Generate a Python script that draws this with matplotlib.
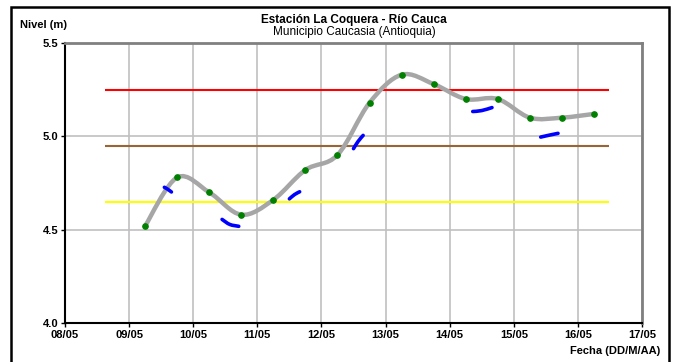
import matplotlib.pyplot as plt
from matplotlib.path import Path
from matplotlib.patches import PathPatch, Rectangle
import numpy as np

plt.rcParams['font.family'] = ['Liberation Sans', 'DejaVu Sans']

# Nivel del río (m), dos lecturas por día (día del mes de mayo)
dias = [9.25, 9.75, 10.25, 10.75, 11.25, 11.75, 12.25, 12.75,
        13.25, 13.75, 14.25, 14.75, 15.25, 15.75, 16.25]
nivel = [4.52, 4.78, 4.70, 4.58, 4.66, 4.82, 4.90, 5.18,
         5.33, 5.28, 5.20, 5.20, 5.10, 5.10, 5.12]

# tramos del pronóstico (azul): inicio, medio, fin
tramos_x = [[9.55, 9.60, 9.66], [10.45, 10.57, 10.71], [11.50, 11.58, 11.66],
            [12.50, 12.57, 12.65], [14.36, 14.50, 14.66], [15.42, 15.55, 15.69]]
tramos_y = [[4.727, 4.717, 4.702], [4.555, 4.528, 4.518], [4.665, 4.688, 4.703],
            [4.934, 4.972, 5.005], [5.133, 5.138, 5.154], [4.996, 5.006, 5.016]]

# umbrales de alerta
umbral_roja = 5.25
umbral_naranja = 4.95
umbral_amarilla = 4.65
umbral_desde, umbral_hasta = 8.62, 16.48

fechas = ["08/05", "09/05", "10/05", "11/05", "12/05", "13/05",
          "14/05", "15/05", "16/05", "17/05"]
fechas_x = list(range(8, 18))


def curva_suave(xs, ys):
    # curva tipo Excel (Catmull-Rom convertida a Bezier)
    p = np.column_stack([xs, ys])
    verts = [p[0]]
    codes = [Path.MOVETO]
    n = len(p)
    for i in range(n - 1):
        p0 = p[i - 1] if i > 0 else p[i]
        p1, p2 = p[i], p[i + 1]
        p3 = p[i + 2] if i + 2 < n else p[i + 1]
        verts += [p1 + (p2 - p0) / 6, p2 - (p3 - p1) / 6, p2]
        codes += [Path.CURVE4] * 3
    return Path(verts, codes)


fig = plt.figure(figsize=(6.76, 3.62), dpi=100)
ax = fig.add_axes([65 / 676, 1 - 323 / 362, 577 / 676, 280 / 362])

ax.set_xlim(8, 17)
ax.set_ylim(4.0, 5.5)

ax.hlines([umbral_roja], umbral_desde, umbral_hasta, color='#FF0000', lw=1.5, zorder=3)
ax.hlines([umbral_naranja], umbral_desde, umbral_hasta, color='#996633', lw=1.5, zorder=3)
ax.hlines([umbral_amarilla], umbral_desde, umbral_hasta, color='#FFFF00', lw=1.5, zorder=3)

ax.add_patch(PathPatch(curva_suave(dias, nivel), fill=False, edgecolor='#A6A6A6',
                       lw=3.2, capstyle='round', zorder=4))
ax.plot(dias, nivel, 'o', color='#008000', ms=3.8, zorder=5)

for tx, ty in zip(tramos_x, tramos_y):
    ax.add_patch(PathPatch(curva_suave(tx, ty), fill=False, edgecolor='#0000FF',
                           lw=2.6, capstyle='round', zorder=4))

ax.set_xticks(fechas_x)
ax.set_xticklabels(fechas, fontsize=8, fontweight='bold')
ax.set_yticks([4.0, 4.5, 5.0, 5.5])
ax.set_yticklabels(["4.0", "4.5", "5.0", "5.5"], fontsize=8, fontweight='bold')
ax.tick_params(axis='both', direction='out', length=3, width=1, pad=2)
ax.grid(True, color='#C0C0C0', lw=1.2)
ax.set_axisbelow(True)

for s in ['left', 'bottom']:
    ax.spines[s].set_color('black')
    ax.spines[s].set_linewidth(1.5)
for s in ['top', 'right']:
    ax.spines[s].set_color('#808080')
    ax.spines[s].set_linewidth(2)

fig.text(354 / 676, 1 - 20.5 / 362, "Estación La Coquera - Río Cauca", ha='center',
         va='center', fontsize=8.5, fontweight='bold')
fig.text(354 / 676, 1 - 32.5 / 362, "Municipio Caucasia (Antioquia)", ha='center',
         va='center', fontsize=8.5)
fig.text(20 / 676, 1 - 25 / 362, "Nivel (m)", ha='left', va='center',
         fontsize=8, fontweight='bold')
fig.text(660 / 676, 1 - 350.5 / 362, "Fecha (DD/M/AA)", ha='right', va='center',
         fontsize=8, fontweight='bold')

fig.patches.append(Rectangle((11 / 676, -0.1), 658 / 676, 1.1 - 7 / 362, fill=False,
                             edgecolor='black', lw=1.8, transform=fig.transFigure))

fig.savefig("out.png", dpi=100)
